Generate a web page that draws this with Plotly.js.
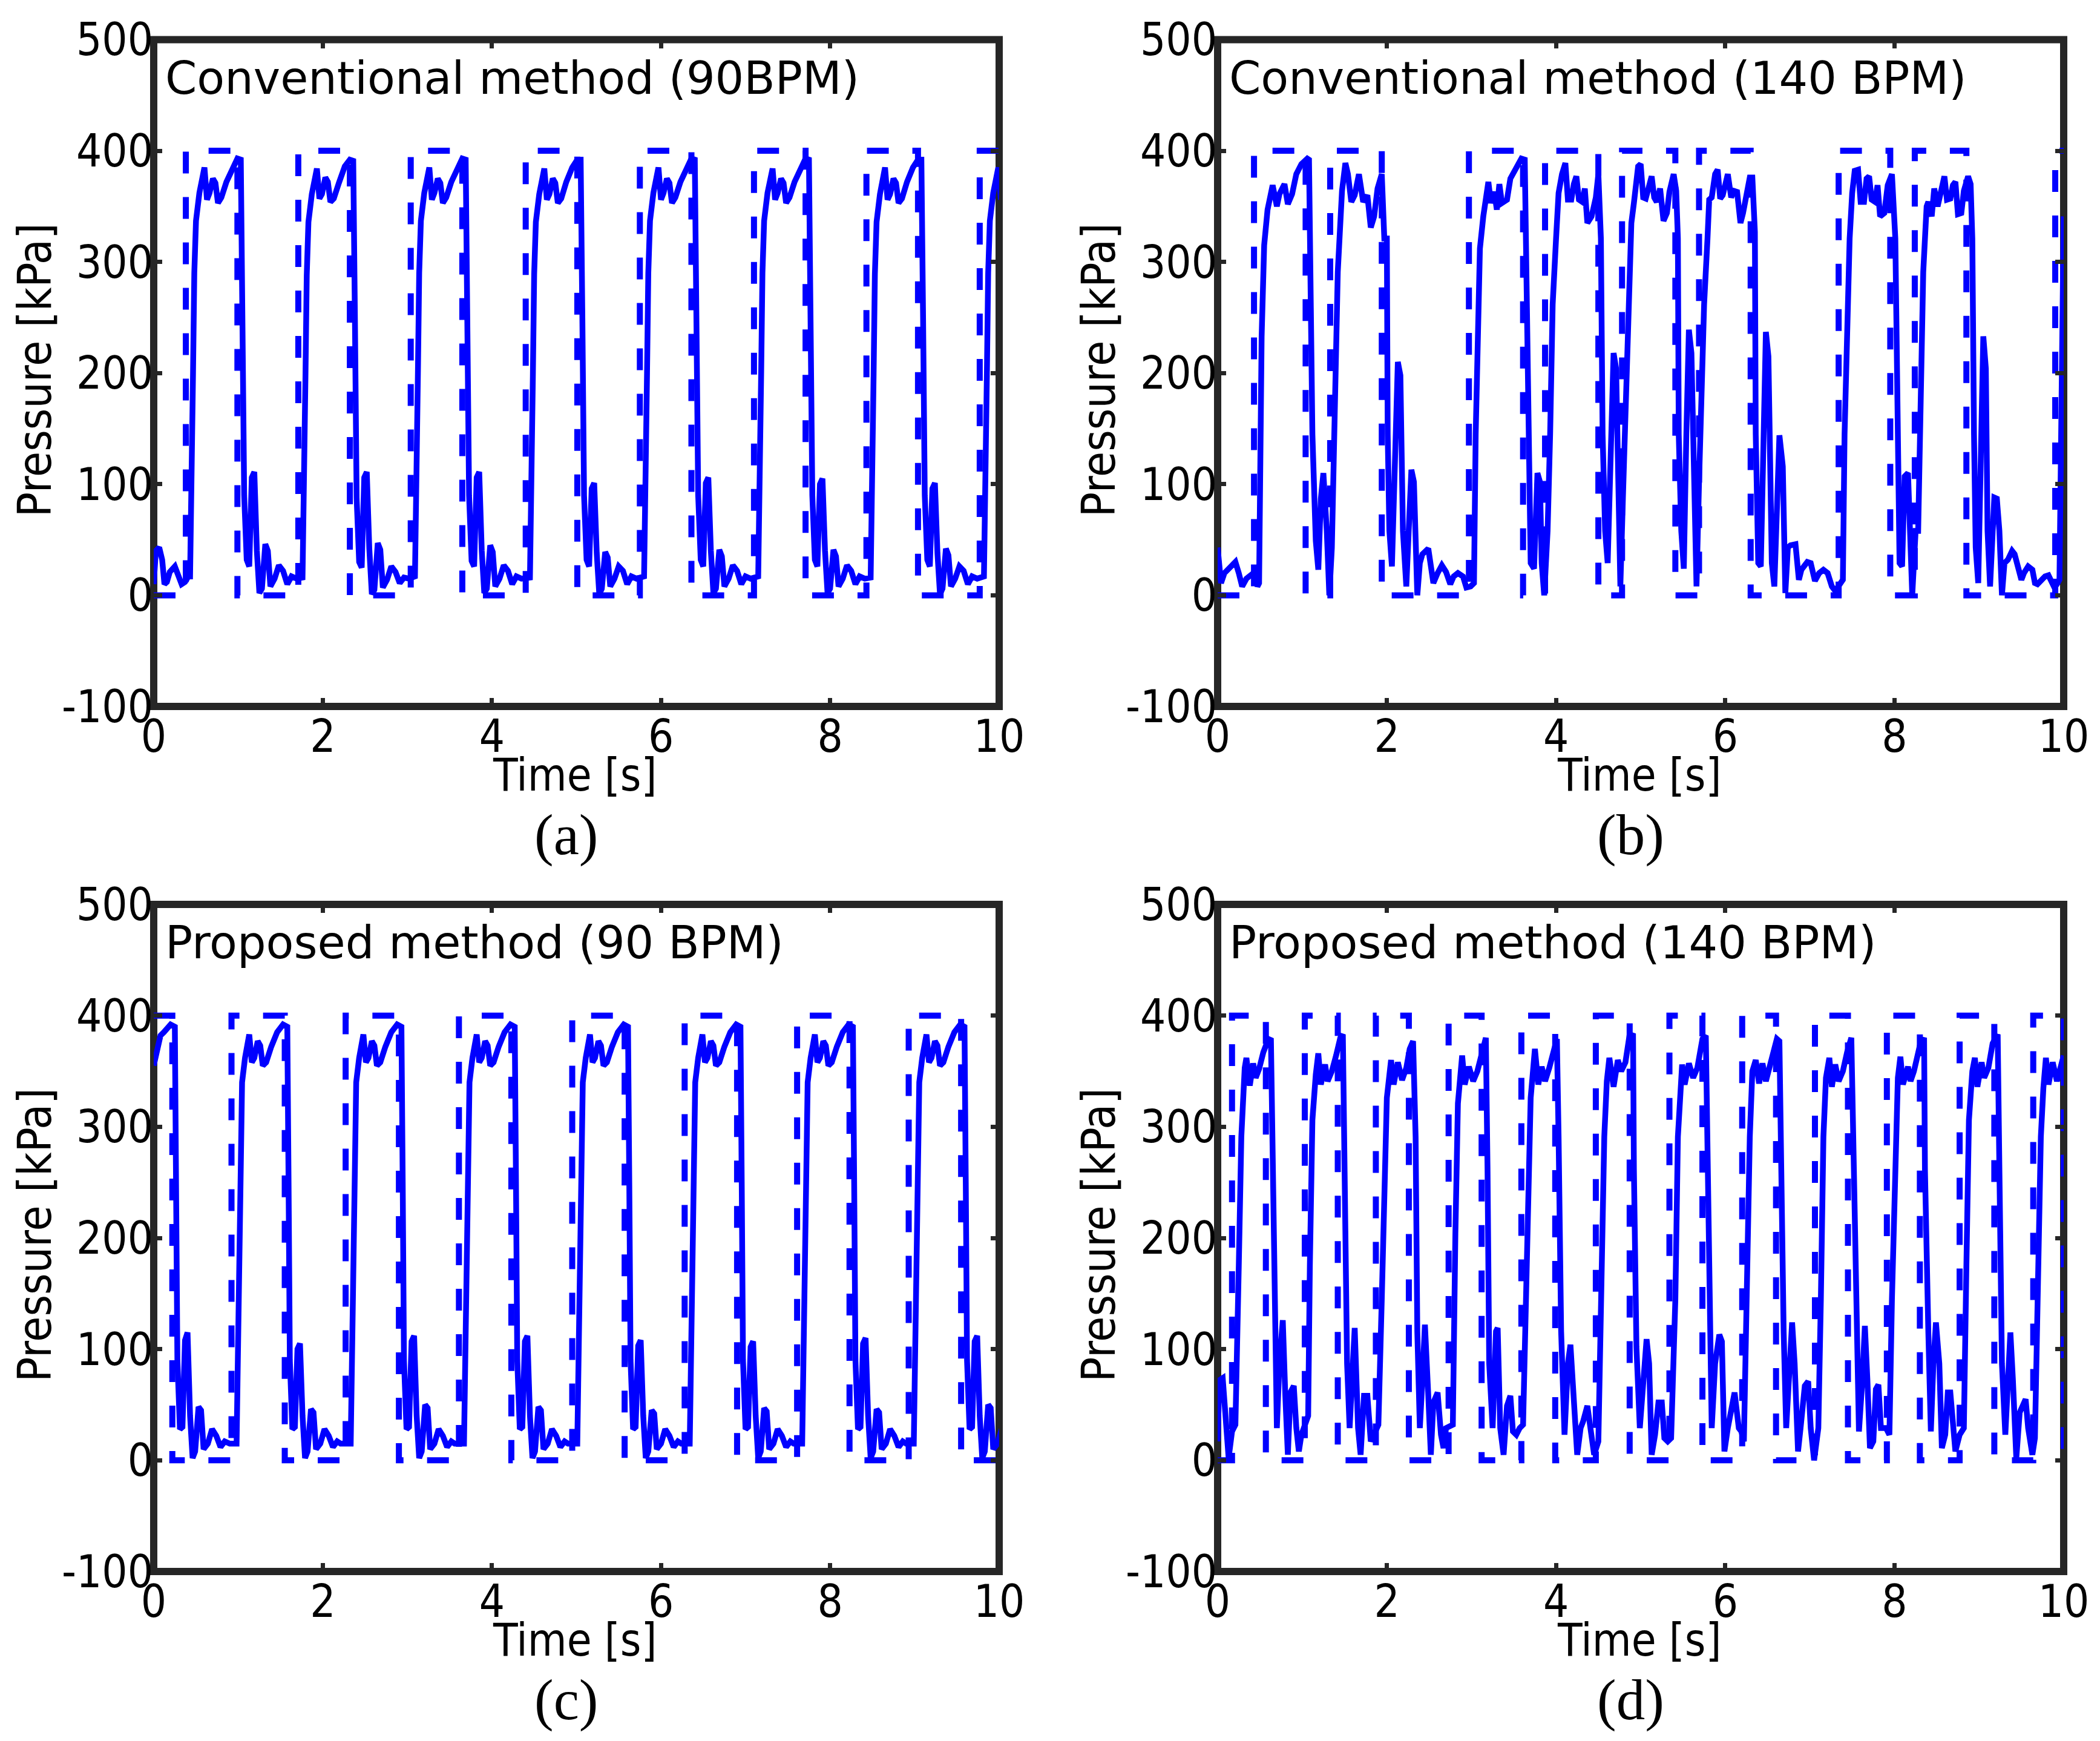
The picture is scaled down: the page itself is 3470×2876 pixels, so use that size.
<!DOCTYPE html>
<html>
<head>
<meta charset="utf-8">
<script src="https://cdn.plot.ly/plotly-3.0.1.min.js"></script>
<style>html,body{margin:0;padding:0;background:#fff;}</style>
</head>
<body>
<div id="chart"></div>
<script>
// ---------------- DATA ----------------
const xTicks = [0, 2, 4, 6, 8, 10];
const yTicks = [-100, 0, 100, 200, 300, 400, 500];
const xTitle = "Time [s]";
const yTitle = "Pressure [kPa]";
const panelTexts = ["Conventional method (90BPM)", "Conventional method (140 BPM)", "Proposed method (90 BPM)", "Proposed method (140 BPM)"];
const panelLetters = ["(a)", "(b)", "(c)", "(d)"];

// (a) conventional, 90 BPM : reference (dashed)
const aRefT = [0,0.38,0.38,0.99,0.99,1.71,1.71,2.32,2.32,3.04,3.04,3.65,3.65,4.40,4.40,5.01,5.01,5.75,5.75,6.36,6.36,7.10,7.10,7.71,7.71,8.43,8.43,9.04,9.04,9.77,9.77,10];
const aRefP = [0,0,400,400,0,0,400,400,0,0,400,400,0,0,400,400,0,0,400,400,0,0,400,400,0,0,400,400,0,0,400,400];
// (a) measured pressure (solid)
const aT = [0,0.025,0.065,0.10,0.127,0.156,0.19,0.25,0.29,0.33,0.37,0.41,
0.43,0.45,0.465,0.48,0.50,0.54,0.60,0.63,0.66,0.70,0.73,0.76,0.80,0.86,0.93,0.99,1.03,1.05,1.07,1.10,1.13,1.16,1.19,1.22,1.25,1.28,1.32,1.35,1.38,1.43,1.48,1.53,1.58,1.63,1.69,
1.76,1.78,1.795,1.81,1.83,1.87,1.93,1.96,1.99,2.03,2.06,2.09,2.13,2.19,2.26,2.32,2.36,2.38,2.40,2.43,2.46,2.49,2.52,2.55,2.58,2.61,2.65,2.68,2.71,2.76,2.81,2.86,2.91,2.96,3.02,
3.09,3.11,3.125,3.14,3.16,3.20,3.26,3.29,3.32,3.36,3.39,3.42,3.46,3.52,3.59,3.65,3.69,3.71,3.73,3.76,3.79,3.82,3.85,3.88,3.91,3.94,3.98,4.01,4.04,4.09,4.14,4.19,4.24,4.29,4.35,
4.45,4.47,4.485,4.50,4.52,4.56,4.62,4.65,4.68,4.72,4.75,4.78,4.82,4.88,4.95,5.01,5.05,5.07,5.09,5.12,5.15,5.18,5.21,5.24,5.27,5.30,5.34,5.37,5.40,5.45,5.50,5.55,5.60,5.65,5.71,
5.80,5.82,5.835,5.85,5.87,5.91,5.97,6.00,6.03,6.07,6.10,6.13,6.17,6.23,6.30,6.36,6.40,6.42,6.44,6.47,6.50,6.53,6.56,6.59,6.62,6.65,6.69,6.72,6.75,6.80,6.85,6.90,6.95,7.00,7.06,
7.15,7.17,7.185,7.20,7.22,7.26,7.32,7.35,7.38,7.42,7.45,7.48,7.52,7.58,7.65,7.71,7.75,7.77,7.79,7.82,7.85,7.88,7.91,7.94,7.97,8.00,8.04,8.07,8.10,8.15,8.20,8.25,8.30,8.35,8.41,
8.48,8.50,8.515,8.53,8.55,8.59,8.65,8.68,8.71,8.75,8.78,8.81,8.85,8.91,8.98,9.04,9.08,9.10,9.12,9.15,9.18,9.21,9.24,9.27,9.30,9.33,9.37,9.40,9.43,9.48,9.53,9.58,9.63,9.68,9.74,
9.82,9.84,9.855,9.87,9.89,9.93,9.99,10.02];
const aP = [10,40,43,32,10,12,21,26,18,10,12,17,
17,90,200,290,337,362,385,356,362,375,371,353,358,372,385,393,392,250,90,32,26,106,111,40,2,6,46,40,8,15,27,22,10,17,15,
16,88,198,288,336,361,384,357,361,376,372,354,357,371,386,392,391,248,88,30,25,106,111,42,1,5,47,41,7,14,26,21,11,16,15,
17,90,200,290,337,362,385,356,362,375,371,353,358,372,385,393,392,250,90,31,26,106,111,40,2,6,45,39,8,15,27,22,10,17,15,
16,89,199,289,336,361,384,356,361,375,371,353,357,372,385,392,392,250,90,32,26,96,101,38,1,6,39,34,8,15,26,22,10,17,15,
17,90,200,290,337,362,385,356,362,375,371,353,358,372,385,393,392,250,90,32,26,101,106,40,2,6,41,35,8,15,27,22,10,17,15,
17,90,200,290,337,362,384,356,362,375,371,353,358,372,385,393,392,250,90,32,26,100,105,40,2,6,41,35,8,15,27,22,10,17,15,
16,89,199,289,336,361,385,356,361,375,371,353,357,372,385,392,392,250,90,32,26,96,101,38,1,6,42,36,8,15,26,22,10,17,15,
17,90,200,290,337,362,385,356];

// (b) conventional, 140 BPM
const bRefT = [0,0.43,0.43,1.04,1.04,1.33,1.33,1.94,1.94,2.97,2.97,3.61,3.61,3.87,3.87,4.50,4.50,4.78,4.78,5.41,5.41,5.69,5.69,6.30,6.30,7.34,7.34,7.95,7.95,8.24,8.24,8.85,8.85,9.90,9.90,10];
const bRefP = [0,0,400,400,0,0,400,400,0,0,400,400,0,0,400,400,0,0,400,400,0,0,400,400,0,0,400,400,0,0,400,400,0,0,400,400];
const bT = [0,0.04,0.08,0.18,0.21,0.25,0.29,0.34,0.41,0.44,0.47,0.49,0.52,0.55,0.59,0.65,0.70,0.73,0.79,0.83,0.88,0.93,0.99,1.06,1.08,1.10,1.12,1.16,1.19,1.22,1.25,1.29,1.32,1.35,1.38,1.42,1.47,1.51,1.54,1.58,1.62,1.67,1.72,1.77,1.81,1.85,1.89,1.94,1.97,2.00,2.01,2.03,2.06,2.10,2.13,2.16,2.19,2.23,2.26,2.29,2.32,2.36,2.39,2.42,2.49,2.52,2.55,2.60,2.65,2.70,2.75,2.79,2.84,2.90,2.94,2.99,3.03,3.05,3.08,3.10,3.14,3.17,3.20,3.23,3.27,3.30,3.33,3.36,3.42,3.46,3.53,3.59,3.63,3.66,3.68,3.70,3.74,3.78,3.81,3.83,3.86,3.90,3.93,3.96,4.00,4.03,4.07,4.11,4.14,4.18,4.21,4.24,4.27,4.31,4.34,4.37,4.42,4.47,4.50,4.53,4.55,4.58,4.61,4.65,4.68,4.71,4.74,4.76,4.79,4.82,4.86,4.89,4.92,4.97,5.00,5.03,5.06,5.10,5.13,5.16,5.19,5.23,5.27,5.31,5.34,5.39,5.42,5.44,5.45,5.48,5.51,5.54,5.57,5.60,5.64,5.66,5.69,5.71,5.75,5.79,5.81,5.84,5.88,5.91,5.94,5.97,6.03,6.07,6.10,6.14,6.18,6.21,6.24,6.29,6.32,6.35,6.36,6.39,6.42,6.45,6.48,6.51,6.55,6.58,6.61,6.64,6.68,6.71,6.74,6.77,6.83,6.87,6.90,6.97,7.01,7.06,7.11,7.16,7.21,7.26,7.30,7.36,7.39,7.41,7.44,7.47,7.50,7.53,7.57,7.60,7.64,7.67,7.70,7.73,7.77,7.80,7.83,7.88,7.92,7.97,8.01,8.03,8.06,8.09,8.12,8.16,8.19,8.21,8.25,8.28,8.31,8.34,8.38,8.40,8.44,8.47,8.51,8.54,8.59,8.62,8.66,8.69,8.72,8.75,8.79,8.82,8.87,8.90,8.92,8.94,8.96,8.99,9.01,9.05,9.08,9.10,9.13,9.16,9.18,9.21,9.24,9.27,9.30,9.34,9.39,9.42,9.47,9.50,9.53,9.58,9.63,9.66,9.69,9.73,9.78,9.82,9.86,9.89,9.92,9.95,9.97,10.0];
const bP = [43,11,20,29,30,20,8,15,20,21,8,11,233,315,347,369,350,361,370,352,361,379,388,393,392,291,145,49,23,87,110,58,0,43,175,291,364,389,379,354,360,379,354,360,331,341,366,379,321,321,145,58,26,116,210,198,58,8,58,113,102,0,29,37,42,26,11,20,27,21,10,17,20,17,7,8,11,145,262,312,341,358,372,353,363,347,370,353,356,375,386,393,392,204,116,29,24,110,102,29,0,58,145,262,321,362,379,389,356,356,370,377,356,354,366,335,341,358,379,321,145,58,29,145,218,204,58,8,87,175,291,335,353,386,388,358,357,367,377,358,354,366,337,344,363,379,364,321,145,58,24,145,239,218,29,8,102,175,262,321,356,358,379,383,357,360,379,358,364,363,335,344,358,376,376,327,145,29,26,145,237,215,29,8,87,144,116,2,43,45,46,14,23,30,29,13,20,23,20,8,4,11,14,145,262,321,362,382,383,354,354,375,377,356,354,369,341,344,369,379,321,145,29,26,107,110,43,0,58,58,175,291,350,354,341,366,350,362,377,356,357,369,372,343,344,364,377,370,321,145,43,11,87,233,204,58,8,58,88,87,58,0,29,32,40,37,20,14,20,26,23,11,10,14,17,18,11,7,10,14,145,341];

// (c) proposed, 90 BPM
const cRefT = [0,0.22,0.22,0.92,0.92,1.55,1.55,2.27,2.27,2.90,2.90,3.61,3.61,4.23,4.23,4.95,4.95,5.57,5.57,6.28,6.28,6.90,6.90,7.61,7.61,8.23,8.23,8.93,8.93,9.55,9.55,10];
const cRefP = [400,400,0,0,400,400,0,0,400,400,0,0,400,400,0,0,400,400,0,0,400,400,0,0,400,400,0,0,400,400,0,0];
const cT = [0,0.04,0.08,0.12,0.16,0.20,0.25,0.265,0.28,0.31,0.34,0.37,0.40,0.43,0.46,0.49,0.53,0.56,0.59,0.64,0.69,0.74,0.79,0.84,0.90,
0.98,0.995,1.01,1.025,1.045,1.08,1.13,1.16,1.19,1.23,1.26,1.29,1.33,1.39,1.46,1.53,1.58,1.595,1.61,1.64,1.67,1.70,1.73,1.76,1.79,1.82,1.86,1.89,1.92,1.97,2.02,2.07,2.12,2.17,2.21,
2.33,2.345,2.36,2.375,2.395,2.43,2.48,2.51,2.54,2.58,2.61,2.64,2.68,2.74,2.81,2.88,2.93,2.945,2.96,2.99,3.02,3.05,3.08,3.11,3.14,3.17,3.21,3.24,3.27,3.32,3.37,3.42,3.47,3.52,3.56,
3.67,3.685,3.70,3.715,3.735,3.77,3.82,3.85,3.88,3.92,3.95,3.98,4.02,4.08,4.15,4.22,4.27,4.285,4.30,4.33,4.36,4.39,4.42,4.45,4.48,4.51,4.55,4.58,4.61,4.66,4.71,4.76,4.81,4.86,4.90,
5.01,5.025,5.04,5.055,5.075,5.11,5.16,5.19,5.22,5.26,5.29,5.32,5.36,5.42,5.49,5.56,5.61,5.625,5.64,5.67,5.70,5.73,5.76,5.79,5.82,5.85,5.89,5.92,5.95,6.00,6.05,6.10,6.15,6.20,6.24,
6.34,6.355,6.37,6.385,6.405,6.44,6.49,6.52,6.55,6.59,6.62,6.65,6.69,6.75,6.82,6.89,6.94,6.955,6.97,7.00,7.03,7.06,7.09,7.12,7.15,7.18,7.22,7.25,7.28,7.33,7.38,7.43,7.48,7.53,7.57,
7.67,7.685,7.70,7.715,7.735,7.77,7.82,7.85,7.88,7.92,7.95,7.98,8.02,8.08,8.15,8.22,8.27,8.285,8.30,8.33,8.36,8.39,8.42,8.45,8.48,8.51,8.55,8.58,8.61,8.66,8.71,8.76,8.81,8.86,8.90,
8.99,9.005,9.02,9.035,9.055,9.09,9.14,9.17,9.20,9.24,9.27,9.30,9.34,9.40,9.47,9.54,9.59,9.605,9.62,9.65,9.68,9.71,9.74,9.77,9.80,9.83,9.87,9.90,9.93,9.98,10.03];
const cP = [355,370,382,385,388,392,390,250,90,28,30,108,115,40,2,8,48,45,10,15,28,22,12,17,15,
15,100,230,300,340,362,383,358,362,377,373,355,358,372,385,392,390,250,90,28,30,100,105,40,2,8,46,43,10,15,28,22,12,17,15,
15,100,230,300,340,362,383,358,362,377,373,355,358,372,385,392,390,250,90,28,30,107,112,40,2,8,50,47,10,15,28,22,12,17,15,
15,100,230,300,340,362,383,358,362,377,373,355,358,372,385,392,390,250,90,28,30,107,112,40,2,8,48,45,10,15,28,22,12,17,15,
15,100,230,300,340,362,383,358,362,377,373,355,358,372,385,392,390,250,90,28,30,103,108,40,2,8,45,42,10,15,28,22,12,17,15,
15,100,230,300,340,362,383,358,362,377,373,355,358,372,385,392,390,250,90,28,30,102,107,40,2,8,47,44,10,15,28,22,12,17,15,
15,100,230,300,340,362,383,358,362,377,373,355,358,372,385,392,390,250,90,28,30,105,110,40,2,8,46,43,10,15,28,22,12,17,15,
15,100,230,300,340,362,383,358,362,377,373,355,358,372,385,392,390,250,90,28,30,107,112,40,2,8,50,47,10,15,28];

// (d) proposed, 140 BPM
const dRefT = [0,0.17,0.17,0.57,0.57,1.03,1.03,1.42,1.42,1.87,1.87,2.26,2.26,2.73,2.73,3.12,3.12,3.59,3.59,3.99,3.99,4.47,4.47,4.87,4.87,5.34,5.34,5.73,5.73,6.20,6.20,6.60,6.60,7.06,7.06,7.45,7.45,7.91,7.91,8.30,8.30,8.77,8.77,9.18,9.18,9.64,9.64,10,10];
const dRefP = [0,0,400,400,0,0,400,400,0,0,400,400,0,0,400,400,0,0,400,400,0,0,400,400,0,0,400,400,0,0,400,400,0,0,400,400,0,0,400,400,0,0,400,400,0,0,400,400,0];
const dT = [0,0.02,0.06,0.10,0.13,0.17,0.21,0.25,0.28,0.32,0.34,0.38,0.42,0.45,0.49,0.54,0.57,0.60,0.63,0.65,0.67,0.70,0.73,0.77,0.80,0.83,0.86,0.90,0.93,0.96,0.99,1.04,1.07,1.09,1.12,1.16,1.19,1.22,1.27,1.30,1.35,1.40,1.45,1.48,1.50,1.53,1.56,1.60,1.62,1.66,1.69,1.73,1.77,1.81,1.84,1.90,1.94,1.97,2.00,2.05,2.08,2.13,2.18,2.23,2.27,2.31,2.34,2.36,2.39,2.42,2.45,2.49,2.52,2.55,2.60,2.64,2.67,2.70,2.78,2.81,2.84,2.89,2.92,2.97,3.02,3.07,3.12,3.17,3.19,3.21,3.25,3.29,3.31,3.34,3.38,3.42,3.46,3.49,3.53,3.57,3.61,3.64,3.67,3.70,3.75,3.79,3.83,3.87,3.92,3.96,4.01,4.03,4.06,4.10,4.14,4.17,4.21,4.25,4.29,4.32,4.37,4.40,4.45,4.50,4.53,4.57,4.60,4.63,4.68,4.73,4.77,4.82,4.87,4.91,4.92,4.95,4.99,5.02,5.07,5.10,5.13,5.17,5.21,5.25,5.28,5.32,5.36,5.41,5.44,5.49,5.52,5.57,5.62,5.67,5.73,5.77,5.79,5.81,5.84,5.88,5.93,5.96,5.99,6.03,6.08,6.11,6.16,6.19,6.22,6.25,6.29,6.32,6.36,6.40,6.44,6.48,6.53,6.58,6.61,6.64,6.66,6.69,6.72,6.75,6.79,6.82,6.86,6.89,6.94,6.98,7.01,7.05,7.10,7.13,7.16,7.19,7.23,7.26,7.30,7.34,7.39,7.44,7.49,7.52,7.55,7.58,7.62,7.65,7.68,7.71,7.75,7.78,7.81,7.84,7.90,7.94,7.97,8.01,8.04,8.07,8.10,8.16,8.19,8.23,8.30,8.35,8.36,8.40,8.43,8.46,8.49,8.53,8.56,8.60,8.63,8.66,8.69,8.72,8.77,8.82,8.85,8.88,8.92,8.95,8.98,9.03,9.06,9.11,9.16,9.22,9.24,9.27,9.31,9.34,9.37,9.40,9.44,9.48,9.52,9.55,9.58,9.63,9.66,9.69,9.73,9.76,9.79,9.82,9.87,9.92,9.97,10.0];
const dP = [17,72,74,29,2,26,32,175,291,353,362,337,357,344,352,367,375,379,378,262,116,29,87,126,58,5,61,67,29,8,23,32,40,175,306,347,366,338,356,341,350,364,380,383,262,87,29,110,119,29,5,58,58,17,23,32,145,262,326,360,338,358,342,353,370,377,291,116,29,72,122,58,5,52,61,23,11,29,32,204,321,364,338,354,341,350,367,380,262,87,29,116,119,29,5,49,58,26,23,29,32,145,262,326,370,338,354,341,353,364,379,291,116,23,87,104,58,5,29,35,49,29,5,17,145,291,341,362,336,360,350,358,383,382,262,102,29,58,109,87,5,23,52,52,20,17,20,145,291,356,338,357,344,353,379,382,262,116,29,87,113,107,8,29,49,61,29,26,17,145,291,350,360,339,357,341,356,367,379,377,262,116,29,72,124,87,8,29,67,71,29,0,29,145,291,344,362,336,356,341,350,367,380,262,116,26,72,121,72,11,17,64,68,29,29,23,145,291,344,363,338,354,341,350,373,380,262,116,26,87,124,87,11,23,61,61,29,8,23,29,175,306,350,362,336,358,344,353,375,383,262,87,23,87,115,72,2,43,52,55,29,5,20,145,291,335,362,338,358,341,356,364];

// ---------------- LAYOUT HELPERS (geometry only) ----------------
const W = 3470, H = 2876;
const boxes = [ // plot frames in pixels: left, right, top, bottom
  {L:254, R:1651, T:65.5, B:1167},
  {L:2012, R:3410, T:65.5, B:1167},
  {L:254, R:1651, T:1494, B:2596},
  {L:2012, R:3410, T:1494, B:2596}
];
const fx = p => p / W;
const fy = p => 1 - p / H;

const BLUE = '#0000ff';
const FRAME = '#262626';
const condensed = '"DejaVu Sans Condensed", "DejaVu Sans", sans-serif';

const refs = [[aRefT, aRefP], [bRefT, bRefP], [cRefT, cRefP], [dRefT, dRefP]];
const meas = [[aT, aP], [bT, bP], [cT, cP], [dT, dP]];

const traces = [];
const layout = {
  width: W, height: H,
  margin: {l: 0, r: 0, t: 0, b: 0},
  paper_bgcolor: '#ffffff', plot_bgcolor: '#ffffff',
  showlegend: false,
  shapes: [], annotations: []
};

boxes.forEach((b, i) => {
  const n = i === 0 ? '' : String(i + 1);
  const xa = 'x' + n, ya = 'y' + n;
  traces.push({
    x: refs[i][0], y: refs[i][1], xaxis: xa, yaxis: ya, type: 'scatter', mode: 'lines',
    line: {color: BLUE, width: 10, dash: '36px,39px'}, hoverinfo: 'skip'
  });
  traces.push({
    x: meas[i][0], y: meas[i][1], xaxis: xa, yaxis: ya, type: 'scatter', mode: 'lines',
    line: {color: BLUE, width: 9.5}, hoverinfo: 'skip'
  });
  layout['xaxis' + n] = {
    domain: [fx(b.L), fx(b.R)], anchor: ya, range: [0, 10],
    tickmode: 'array', tickvals: xTicks, ticktext: xTicks.map(String),
    ticks: 'inside', ticklen: 14, tickwidth: 7, tickcolor: FRAME, mirror: 'ticks',
    showline: false, showgrid: false, zeroline: false, fixedrange: true,
    tickfont: {family: condensed, size: 74, color: '#000'}
  };
  layout['yaxis' + n] = {
    domain: [fy(b.B), fy(b.T)], anchor: xa, range: [-100, 500],
    tickmode: 'array', tickvals: yTicks, ticktext: yTicks.map(String),
    ticks: 'inside', ticklen: 14, tickwidth: 7, tickcolor: FRAME, mirror: 'ticks',
    showline: false, showgrid: false, zeroline: false, fixedrange: true,
    tickfont: {family: condensed, size: 74, color: '#000'}
  };
  layout.shapes.push({
    type: 'rect', xref: xa + ' domain', yref: ya + ' domain', x0: 0, x1: 1, y0: 0, y1: 1,
    line: {color: FRAME, width: 12}, fillcolor: 'rgba(0,0,0,0)', layer: 'below'
  });
  // axis titles
  layout.annotations.push({
    text: xTitle, xref: 'paper', yref: 'paper',
    x: fx((b.L + b.R) / 2 - 2), y: fy(b.B + 68), xanchor: 'center', yanchor: 'top', showarrow: false,
    font: {family: condensed, size: 74, color: '#000'}
  });
  layout.annotations.push({
    text: yTitle, xref: 'paper', yref: 'paper', textangle: -90,
    x: fx(b.L - 197), y: fy((b.T + b.B) / 2 - 5), xanchor: 'center', yanchor: 'middle', showarrow: false,
    font: {family: condensed, size: 76, color: '#000'}
  });
  // panel caption inside the axes
  layout.annotations.push({
    text: panelTexts[i], xref: 'paper', yref: 'paper',
    x: fx(b.L + 17), y: fy(b.T + 17), xanchor: 'left', yanchor: 'top', showarrow: false,
    font: {family: '"DejaVu Sans", sans-serif', size: 75, color: '#000'}
  });
  // sub-figure letter
  layout.annotations.push({
    text: panelLetters[i], xref: 'paper', yref: 'paper',
    x: fx((b.L + b.R) / 2 - 17), y: fy(b.B + 157), xanchor: 'center', yanchor: 'top', showarrow: false,
    font: {family: '"Liberation Serif", "Times New Roman", serif', size: 95, color: '#000'}
  });
});

Plotly.newPlot('chart', traces, layout, {displayModeBar: false, staticPlot: true});
</script>
</body>
</html>
